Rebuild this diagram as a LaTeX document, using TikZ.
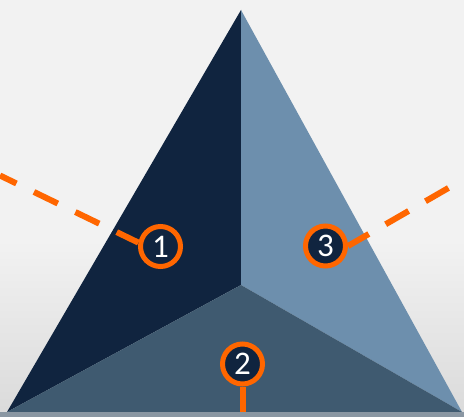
\documentclass[tikz,border=0pt]{standalone}
\usepackage{fontspec}
\setmainfont{Carlito}
\definecolor{navy}{HTML}{10243F}
\definecolor{steel}{HTML}{6D8FAD}
\definecolor{slate}{HTML}{3F5A70}
\definecolor{ring}{HTML}{FF6600}
\definecolor{strip}{HTML}{8A97A3}
\definecolor{bgtop}{HTML}{F2F2F2}
\definecolor{bgbot}{HTML}{DADADA}
\tikzset{
  numcircle/.style={circle, draw=ring, line width=5pt, fill=navy, minimum size=40pt,
    inner sep=0pt, text=white, font=\fontsize{33}{33}\selectfont},
  leader/.style={draw=ring, line width=6pt},
  dashedleader/.style={leader, dash pattern=on 26.5pt off 19.5pt, dash phase=2.5pt}
}
\begin{document}
\begin{tikzpicture}[x=1pt,y=-1pt]
\fill[bgtop] (0,0) rectangle (464,241);
\shade[top color=bgtop, bottom color=bgbot] (0,240) rectangle (464,417);
\useasboundingbox (0,0) rectangle (464,417);
\coordinate (A) at (241,10);
\coordinate (L) at (7,412);
\coordinate (R) at (462,412);
\coordinate (C) at (241,285);
\fill[navy] (A) -- (L) -- (C) -- cycle;
\fill[steel] (A) -- (C) -- (R) -- cycle;
\fill[slate] (L) -- (C) -- (R) -- cycle;
\fill[strip] (0,411.5) rectangle (464,417);
\node[numcircle] (c1) at (160.5,246.5) {1};
\node[numcircle] (c2) at (242.5,364) {2};
\node[numcircle] (c3) at (325.5,246) {3};
\coordinate (e1) at (0,175.5);
\coordinate (e3) at (464,179);
\coordinate (e2) at (242.5,412);
\draw[dashedleader] (c1.170) -- (e1);
\draw[dashedleader] (c3.east) -- (e3);
\draw[leader] (c2.south) -- (e2);
\end{tikzpicture}
\end{document}
